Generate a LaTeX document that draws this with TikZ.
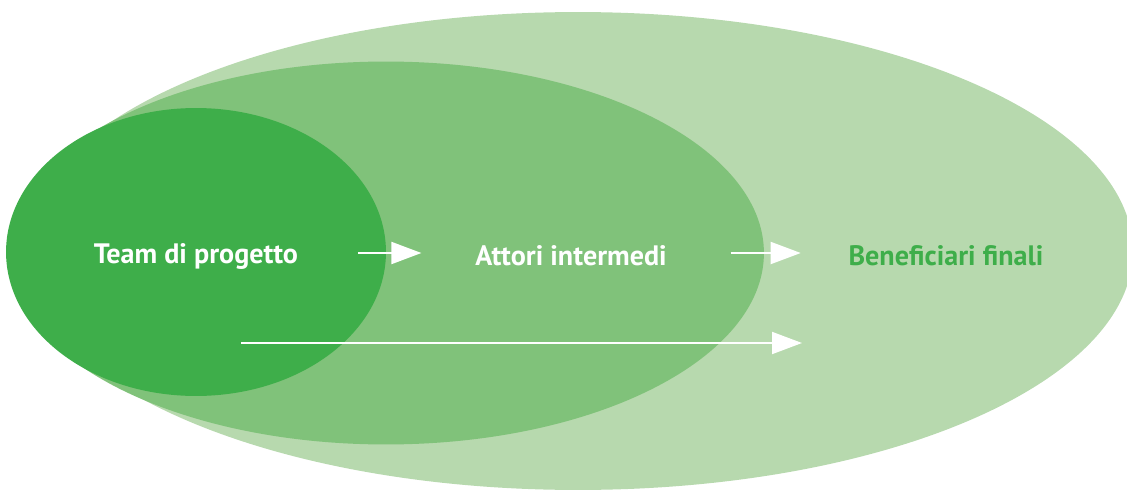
\documentclass[tikz,border=0pt]{standalone}
\usepackage{fontspec}
\setmainfont{PT Sans}
\usepackage{tikz}
\usetikzlibrary{shapes.geometric, arrows.meta}
\definecolor{verdeA}{HTML}{3EAE4A}
\definecolor{verdeB}{HTML}{80C27A}
\definecolor{verdeC}{HTML}{B7D9AE}
\tikzstyle{area} = [ellipse, draw=none, inner sep=0pt]
\tikzstyle{label} = [inner sep=0pt, font=\fontsize{16}{19}\selectfont\bfseries, text=white]
\tikzstyle{arrow} = [draw=white, line width=1.1pt, -{Triangle[length=0.6cm, width=0.44cm]}]

\begin{document}
\begin{tikzpicture}[x=0.02cm, y=-0.02cm]
				\useasboundingbox (0,0) rectangle (1127,490);
				% the three nested areas
				\node(benef) [area, fill=verdeC, minimum width=22.2cm, minimum height=9.56cm] at (578,251) {};
				\node(attori) [area, fill=verdeB, minimum width=15.12cm, minimum height=7.66cm] at (386,253) {};
				\node(team) [area, fill=verdeA, minimum width=7.6cm, minimum height=5.76cm] at (196,252) {};
				
				\node(lteam) [label] at (196,256) {Team di progetto};
				\node(lattori) [label] at (571,256) {Attori intermedi};
				\node(lbenef) [label, text=verdeA] at (946,256) {Beneficiari finali};
				
				\coordinate(b0) at (241,343);
				\coordinate(b1) at (802,343);
				
				\draw[arrow, shorten <=1.19cm, shorten >=1.07cm] (lteam.east |- 0,253) -- (lattori.west |- 0,253);
				\draw[arrow, shorten <=1.27cm, shorten >=0.95cm] (lattori.east |- 0,253) -- (lbenef.west |- 0,253);
				\draw[arrow] (b0) -- (b1);
			\end{tikzpicture}
\end{document}
